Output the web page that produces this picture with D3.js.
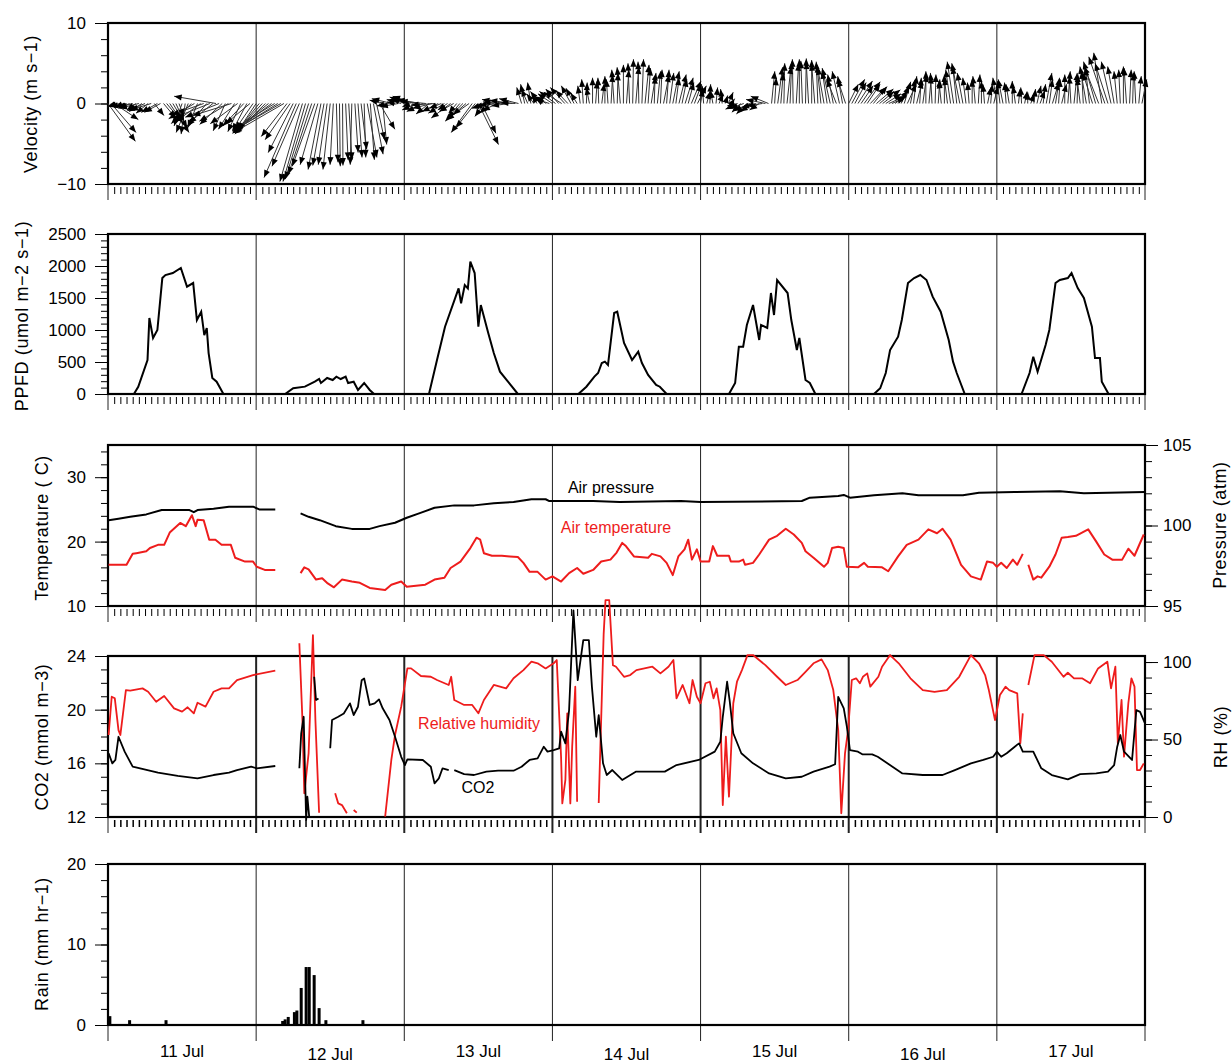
<!DOCTYPE html>
<html><head><meta charset="utf-8">
<script src="https://cdn.jsdelivr.net/npm/d3@7/dist/d3.min.js"></script>
<style>
body{margin:0;background:#fff;}
svg{display:block;}
text{font-family:"Liberation Sans",Arial,Helvetica,sans-serif;}
</style></head><body>
<svg id="chart" width="1232" height="1064"></svg>
<script>
// ---------------- DATA (time in hours since 11 Jul 00:00) ----------------
const dayLabels = ["11 Jul","12 Jul","13 Jul","14 Jul","15 Jul","16 Jul","17 Jul"];

// Wind vectors, half-hourly, u (east) and v (north) in m/s, per day
const windU11 = [3.4,3.1,3.0,-1.2,-1.5,-1.0,-2.0,-1.4,-1.8,-1.1,-2.4,-1.6,-2.2,-1.5,-2.6,1.2,-2.0,-2.0,1.5,2.0,2.4,1.8,1.0,0.6,-1.0,-0.5,-1.5,-2.5,-3.2,-1.2,-3.0,-4.0,-2.4,-4.5,-3.0,-5.2,-4.2,-2.8,-1.5,-3.6,-4.8,-2.0,-3.4,-1.6,-2.6,-1.8,-3.0,-2.2];
const windV11 = [-4.7,-3.6,-2.0,-0.4,-0.3,-0.5,-0.4,-0.6,-0.5,-0.8,-0.6,-1.0,-0.9,-1.2,-0.8,-1.5,-1.1,-1.1,-1.8,-2.4,-3.6,-3.0,-2.2,-1.6,-2.8,-3.8,-3.6,-2.5,-1.9,-3.0,-2.2,-1.4,-2.8,-1.8,-2.4,0.9,-1.7,-2.6,-3.4,-2.2,-1.5,-3.2,-2.5,-3.5,-2.8,-3.4,-2.5,-3.2];
const windU12 = [-2.2,-2.8,-3.3,-3.8,-4.2,-4.8,-5.2,-5.6,-6.0,-6.4,-3.2,-3.1,-3.1,-4.0,-3.4,-2.8,-2.8,-2.9,-2.9,-2.8,-2.2,-1.6,-1.4,-1.1,-0.9,-0.4,0.2,0.1,0.05,0.3,0.4,-0.2,0.4,0.5,0.7,0.2,1.2,0.5,1.2,1.0,1.9,0.5,-2.0,-1.5,-2.5,-1.0,-2.2,-1.8];
const windV12 = [-3.3,-3.5,-3.6,-3.8,-3.4,-3.6,-3.2,-3.5,-3.4,-3.7,-4.1,-4.5,-6.1,-9.2,-7.8,-9.7,-9.7,-9.4,-8.8,-7.8,-7.6,-8.2,-7.7,-7.6,-8.2,-7.6,-7.3,-7.8,-7.7,-7.0,-7.0,-7.6,-6.1,-6.7,-5.7,-6.7,-6.7,-7.0,-6.3,-4.5,-3.2,-5.1,0.4,-0.3,0.6,0.2,-0.4,0.5];
const windU13 = [-1.5,-2.2,-1.0,-2.6,-1.8,-2.8,-2.0,-3.2,-1.6,-2.4,-3.0,-2.0,-1.5,-2.0,-1.2,-2.4,-1.8,-1.0,-1.5,-2.2,-1.6,-2.8,-2.6,-2.4,2.5,1.8,-1.2,-2.0,-1.4,-2.4,-1.8,-2.6,-2.5,-3.0,-2.2,-2.8,-1.8,-2.4,-0.6,-0.5,-0.8,-0.4,-0.9,-0.6,-1.2,-0.8,-1.5,-1.8];
const windV13 = [0.6,0.8,-0.4,0.9,-0.8,0.5,-1.0,0.3,-1.3,-0.6,-0.2,-1.0,-0.6,-1.2,-0.8,-1.8,-1.0,-1.2,-1.8,-2.2,-1.4,-2.0,-3.6,-3.0,-5.1,-3.7,-1.6,-0.6,-1.2,-0.4,-0.9,-0.2,0.2,0.5,-0.3,0.4,0.1,0.6,2.0,2.4,1.8,2.6,1.2,1.0,1.5,0.7,0.9,0.6];
const windU14 = [-1.8,-2.0,-1.6,-2.2,-1.8,-1.5,-1.2,-1.0,-0.8,-0.3,-0.2,0.1,-0.4,0.0,0.2,-0.1,0.3,0.0,-0.2,0.2,-0.3,0.1,-0.4,0.0,0.3,-0.2,0.1,0.4,-0.1,0.2,0.5,0.3,0.6,0.1,0.4,0.2,0.7,0.3,0.5,0.8,0.4,0.9,0.6,1.0,0.7,1.2,0.9,1.1];
const windV14 = [1.2,1.5,1.8,1.4,2.0,1.6,2.2,1.9,1.3,2.2,3.0,2.6,2.0,3.2,2.8,3.2,2.5,3.4,3.0,3.6,4.2,3.8,4.5,4.8,4.2,5.0,5.5,4.6,5.2,5.5,4.8,4.4,3.8,3.4,4.0,4.2,3.6,4.2,3.8,4.0,3.2,3.6,3.0,3.2,2.6,2.8,2.4,2.2];
const windU15 = [0.3,-0.2,0.4,0.1,-0.3,0.2,0.5,-0.2,0.3,0.6,0.4,-0.9,-1.5,-1.1,-1.7,-1.3,-2.0,-1.6,-1.8,-1.2,-2.0,-2.4,-2.2,0.4,0.2,0.6,0.3,0.1,0.5,0.2,-0.1,0.3,0.0,-0.2,0.1,-0.3,0.0,-0.4,-0.2,-0.5,-0.8,-0.6,-1.0,-0.7,-1.2,-0.9,-0.6,-1.0];
const windV15 = [1.8,2.2,1.5,2.4,1.6,2.0,1.2,1.8,1.0,1.4,0.6,-0.3,-0.7,-1.1,-0.6,-1.3,-0.9,-1.0,-0.5,-0.8,-0.3,0.5,0.9,4.0,3.2,4.5,3.8,5.0,4.6,5.2,5.5,5.0,5.5,5.3,5.6,5.2,5.4,5.0,5.2,4.8,4.5,4.0,4.4,3.6,3.0,4.0,3.4,3.0];
const windU16 = [1.2,1.6,1.4,1.8,1.5,2.0,1.6,1.9,1.7,2.1,1.8,2.2,1.9,2.0,1.6,1.4,1.2,1.0,0.8,1.1,0.6,0.4,0.7,0.2,0.5,0.0,0.3,-0.2,0.1,0.2,-0.3,0.0,-0.4,-0.6,-0.8,-0.5,-1.0,-0.7,-0.4,-0.2,0.0,-0.3,0.2,0.0,-0.2,0.4,0.2,0.5];
const windV16 = [2.4,3.0,2.6,2.8,2.2,2.7,2.4,2.0,2.1,1.8,1.5,1.7,1.2,0.9,0.7,1.0,1.6,2.2,2.7,2.4,3.0,3.4,2.8,3.2,3.6,4.0,3.4,3.8,3.6,3.0,2.8,3.6,3.2,4.2,5.2,4.6,5.0,3.8,3.2,2.6,3.0,3.4,3.6,2.8,2.4,2.0,2.4,2.1];
const windU17 = [-0.5,-0.3,-0.6,-0.2,-0.4,0.0,-0.3,0.2,-0.1,0.3,0.0,0.4,0.2,0.5,0.6,0.3,0.7,0.4,0.8,0.5,0.2,0.6,0.0,0.3,-0.2,0.4,0.1,-0.4,-0.2,-0.8,-0.5,-1.2,-1.5,-1.8,-1.0,-2.0,-1.6,-1.2,-0.8,-0.4,-0.2,0.0,-0.3,0.2,0.1,-0.2,0.3,0.6];
const windV17 = [3.2,2.8,3.0,2.6,2.4,2.8,2.2,1.8,2.0,1.5,1.4,1.2,1.8,2.2,1.6,2.4,3.8,3.0,2.6,3.2,3.0,2.4,3.6,4.0,3.4,3.8,3.6,3.2,4.0,4.6,4.4,3.8,5.2,4.6,6.3,5.8,5.0,5.2,4.6,4.0,4.2,4.6,4.4,4.2,3.8,4.0,3.4,3.0];

// PPFD (umol m-2 s-1)
const ppfdHour = [0,4.2,4.9,6.4,6.7,7.3,8.0,8.8,9.3,10.5,11.8,12.8,13.8,14.4,15.1,15.6,16.0,16.3,16.9,17.6,18.7,
  28.7,30.0,31.9,33.5,34.2,34.5,35.5,36.4,37.0,37.7,38.5,38.9,39.8,40.5,41.5,42.4,43.1,
  52.0,53.3,54.6,56.8,57.2,57.8,58.3,58.7,59.4,60.0,60.4,61.6,62.5,63.5,64.8,66.4,
  76.2,77.5,78.8,79.4,80.0,80.5,81.0,82.0,82.5,83.6,84.9,85.9,86.5,87.5,88.8,89.4,90.5,
  100.6,101.6,102.2,102.9,103.5,104.5,105.5,105.8,106.8,107.4,107.9,108.4,110.1,110.7,111.6,112.0,113.0,113.7,114.6,
  124.1,125.1,126.0,126.7,128.0,128.6,129.6,130.6,131.6,132.6,133.6,134.9,136.2,136.9,137.5,138.8,
  148.0,149.3,149.9,150.6,151.9,152.5,153.5,154.2,155.5,156.1,157.1,158.1,159.4,159.9,160.7,161.0,162.1,168];
const ppfdValue = [0,0,114,531,1187,875,1000,1812,1859,1890,1969,1677,1734,1156,1286,921,1031,640,250,192,0,
  0,89,115,192,234,172,250,219,271,234,271,172,192,63,172,63,0,
  0,531,1052,1651,1417,1703,1651,2067,1890,1052,1390,953,640,349,192,0,
  0,114,271,328,484,505,453,1265,1286,797,531,661,484,297,141,114,0,
  0,172,739,739,1078,1390,844,1078,1031,1578,1234,1781,1578,1156,687,875,219,172,0,
  0,89,328,687,896,1156,1734,1812,1859,1781,1521,1286,844,505,328,0,
  0,328,583,349,766,1000,1734,1781,1812,1890,1656,1500,1052,562,562,192,0,0];

// Air temperature (C), null = no data
const tempHour = [0.1,3.0,4.0,4.6,6.2,6.8,8.1,9.1,10.0,11.7,12.6,13.6,14.2,14.5,15.5,16.4,17.4,18.4,19.9,20.6,
  22.2,23.5,24.1,25.4,27.1,29.0,31.2,31.8,32.5,33.7,34.7,35.6,36.6,37.9,39.5,40.8,42.4,44.9,45.9,47.5,
  48.4,51.4,52.9,54.5,55.5,57.1,58.7,59.7,60.3,60.9,62.2,63.8,65.1,66.4,67.3,68.3,69.6,70.9,72.0,73.4,
  74.7,76.0,77.0,78.6,79.9,81.4,82.4,83.3,83.9,85.2,87.5,88.1,89.5,90.5,91.5,92.4,93.4,94.0,94.6,95.4,
  96.0,97.4,98.0,98.7,100.6,100.9,102.2,102.9,103.2,104.5,105.5,107.1,108.4,109.8,111.1,112.4,113.0,114.3,116.0,116.6,
  117.3,118.3,119.2,119.7,121.5,122.5,123.1,125.4,126.4,128.0,129.4,131.3,132.9,134.3,135.2,136.5,138.2,139.8,141.4,142.4,
  143.4,144.0,144.7,145.6,146.6,147.3,148.2,148.6,149.1,149.9,150.6,151.2,152.5,153.5,154.5,155.5,156.8,158.8,160.1,161.4,
  162.7,164.3,165.3,166.3,167.8];
const tempValue = [16.4,16.4,18.1,18.2,18.5,19.0,19.5,19.5,21.4,22.9,22.4,24.1,22.4,23.4,23.3,20.3,20.3,19.5,19.5,17.5,
  16.9,16.9,16.1,15.6,15.6,null,15.1,16.0,15.7,14.1,14.3,13.5,12.9,14.1,13.8,13.6,12.8,12.5,13.3,13.8,
  13.0,13.3,14.1,14.4,15.9,16.9,19.0,20.6,20.3,18.2,17.8,17.8,17.7,17.6,16.7,15.3,15.3,14.1,14.6,13.8,
  15.1,15.9,15.0,15.6,16.9,17.2,18.3,19.8,19.3,17.7,17.5,18.1,17.7,16.7,14.8,17.7,18.8,20.3,17.2,18.8,
  16.9,16.9,19.3,17.8,17.8,16.9,16.9,17.2,16.4,16.7,18.0,20.3,20.9,22.0,21.1,19.8,18.5,17.5,16.1,16.7,
  19.0,19.2,19.0,16.1,16.0,16.7,16.1,16.0,15.4,17.7,19.5,20.3,21.9,21.3,22.0,20.3,16.4,14.6,14.1,16.9,
  16.7,16.1,16.7,15.9,17.2,16.4,18.1,null,16.4,14.1,14.6,14.4,16.1,18.0,20.6,20.7,20.9,21.9,20.0,18.0,
  17.2,17.2,18.9,17.8,21.1];

// Air pressure (right axis)
const presHour = [0.1,1.7,3.6,6.2,8.7,13.2,13.9,14.5,17.1,19.6,23.5,24.5,27.1,29.0,31.2,32.5,34.3,36.9,39.5,42.4,
  44.0,46.5,48.4,50.4,52.9,56.1,59.3,62.5,65.7,68.6,70.9,71.5,78.6,82.9,92.8,96.0,112.4,113.7,118.3,119.2,
  120.2,124.1,128.7,131.3,138.5,141.1,146.9,154.2,158.1,168];
const presValue = [100.33,100.42,100.54,100.69,100.96,100.96,100.83,100.96,101.04,101.17,101.17,101.0,101.0,null,100.75,100.54,100.33,99.96,99.79,99.79,
  99.96,100.17,100.48,100.75,101.1,101.25,101.25,101.38,101.46,101.63,101.63,101.52,101.52,101.46,101.52,101.46,101.52,101.73,101.83,101.9,
  101.73,101.88,102.0,101.88,101.88,102.04,102.08,102.13,102.0,102.08];

// CO2 (mmol m-3)
const co2Hour = [0.1,0.7,1.2,1.7,2.7,4.0,5.2,8.1,11.3,14.5,17.1,19.6,20.9,23.2,24.1,27.1,29.0,31.0,31.3,31.7,
  32.1,32.3,32.6,33.0,33.4,33.7,34.1,35.0,36.0,36.3,37.3,38.2,39.2,39.8,40.5,41.1,41.5,42.4,43.2,43.9,
  44.5,45.6,46.5,47.5,48.1,48.5,51.0,52.3,52.9,53.6,54.2,55.2,55.6,56.1,57.7,59.3,61.3,63.2,65.7,67.0,
  68.3,69.6,70.6,71.2,72.2,73.1,73.4,74.1,74.7,75.4,76.1,77.0,77.9,78.4,79.1,79.5,80.2,80.8,81.7,83.3,
  85.5,90.2,92.1,95.7,98.3,99.2,99.6,100.3,100.7,101.3,102.6,104.5,107.1,109.8,112.4,114.3,116.9,117.8,118.3,119.2,
  119.7,120.2,121.5,122.2,123.8,124.7,128.7,132.0,135.2,137.2,139.8,141.8,143.4,144.0,144.7,145.6,146.9,147.6,148.2,149.9,
  151.2,152.9,155.5,157.5,160.1,162.0,163.0,163.5,164.0,164.6,165.9,166.6,167.2,168];
const co2Value = [16.75,16.0,16.25,17.98,16.87,15.75,15.63,15.3,15.06,14.88,15.13,15.3,15.5,15.75,15.63,15.8,null,15.63,18.24,19.47,
  11.78,13.51,12.0,null,22.45,20.72,20.84,null,17.12,19.23,19.47,19.72,20.47,19.6,20.22,22.2,22.33,20.35,20.47,20.77,
  20.1,19.23,17.98,16.49,15.87,16.3,16.25,15.75,14.51,14.88,15.63,15.5,null,15.5,15.2,15.13,15.38,15.45,15.45,15.75,
  16.25,16.37,17.24,16.87,16.99,17.12,18.36,17.49,19.97,27.4,22.2,25.19,25.19,21.7,17.98,19.6,16.0,15.13,15.5,14.76,
  15.38,15.38,15.87,16.25,16.87,17.61,19.47,22.08,20.72,18.24,16.75,16.0,15.25,14.88,15.0,15.38,15.75,15.93,20.96,20.1,
  18.73,16.99,16.87,16.67,16.67,16.49,15.25,15.13,15.13,15.5,16.0,16.25,16.49,16.87,16.49,16.75,17.24,17.49,16.87,16.87,
  15.63,15.13,14.81,15.2,15.25,15.38,15.87,17.24,18.11,16.87,16.25,19.97,19.84,18.98];

// Relative humidity (%)
const rhHour = [0.1,0.6,1.1,1.7,2.0,2.9,3.6,5.6,6.5,7.8,9.1,10.7,12.0,12.9,13.9,14.5,15.8,17.1,18.4,19.6,
  20.9,23.5,27.1,29.0,31.0,31.5,31.8,32.5,33.2,33.6,34.2,35.5,36.8,37.3,37.9,38.7,39.3,39.8,40.3,42.0,
  44.9,45.9,46.5,47.5,48.5,49.1,50.7,52.3,53.3,55.2,55.6,56.1,57.7,59.0,60.0,60.9,62.5,64.5,65.7,67.3,
  68.6,69.6,70.9,72.2,72.7,73.4,73.6,74.1,74.4,74.9,75.2,75.7,76.0,77.8,79.5,80.3,80.6,81.2,81.8,82.3,
  83.6,84.6,85.6,86.9,88.2,89.5,90.8,91.6,92.1,93.1,93.8,94.2,94.7,95.4,96.0,96.8,97.5,98.1,98.6,99.2,
  99.6,100.1,100.6,101.3,101.9,102.7,103.6,104.5,106.5,108.4,109.8,111.7,113.0,114.3,115.6,116.6,117.5,118.3,118.8,119.4,
  119.9,120.5,121.2,121.8,122.3,123.0,123.5,124.8,125.4,126.7,128.1,130.0,132.0,133.9,135.9,137.9,139.8,141.1,142.1,142.7,
  143.7,144.5,145.4,146.0,147.3,147.8,148.2,148.6,149.1,150.1,151.6,152.9,154.8,155.5,156.5,157.8,159.1,160.4,161.9,162.5,
  163.2,163.6,164.2,164.6,165.3,165.8,166.3,166.7,167.2,167.8];
const rhValue = [52.9,77.6,76.6,56.1,52.9,81.9,81.5,83.0,80.8,74.4,78.1,70.1,68.0,70.8,66.9,73.7,71.2,80.8,83.0,83.0,
  88.4,91.6,94.4,null,112.1,62.6,15.3,41.1,117.4,62.6,2.8,null,15.3,8.8,7.7,2.4,null,4.5,2.8,null,
  0.2,36.8,52.9,71.2,95.9,95.9,91.0,90.5,88.4,85.2,90.5,75.5,72.3,72.3,66.9,75.5,85.2,83.0,89.5,94.8,
  100.2,99.2,95.9,99.2,101.3,38.9,8.8,23.9,66.9,8.8,45.4,84.1,9.9,null,9.0,118,140,140,98,97,
  90.5,91.6,94.8,95.9,97,92.7,97,101.3,76.6,85.2,77.6,73.4,88.4,77.6,73.4,86.3,87.3,76.6,83.0,69.0,
  7.7,51.8,13.1,73.4,87.3,94.8,104.5,104.5,98,90.5,85.2,88.4,93.7,99.2,101.7,94.8,81.9,56.1,2.4,41.1,
  56.1,88.4,89.5,86.3,90.5,92.7,84.1,90.5,97,104.5,99.2,89.5,81.9,80.8,81.9,90.5,104.5,99.2,91.6,81.9,
  62.6,78.7,84.1,81.9,79.8,47.5,66.9,null,85.2,104.5,104.5,100.2,90.5,93.1,89.5,89.5,86.3,95.9,100.2,83.0,
  97,47.5,75.5,38.9,73.4,89.5,84.1,30.3,30.3,34.6];

// Rain (mm hr-1)
const rainHour = [0.3,3.5,9.4,28.3,28.7,29.2,30.2,30.6,31.3,32.1,32.6,33.4,34.2,35.3,41.3];
const rainValue = [1.1,0.6,0.6,0.5,0.7,1.0,1.6,1.8,4.6,7.2,7.2,6.2,2.1,0.6,0.6];

// ---------------- DRAWING ----------------
const FONT = '"Liberation Sans", Arial, Helvetica, sans-serif';
const RED = "#ee1c1c";
const svg = d3.select("#chart");
const x = d3.scaleLinear().domain([0, 168]).range([108, 1145]);

const yVel  = d3.scaleLinear().domain([-10, 10]).range([184, 23]);
const yPpfd = d3.scaleLinear().domain([0, 2500]).range([394, 234]);
const yTemp = d3.scaleLinear().domain([10, 35]).range([606, 445]);
const yPres = d3.scaleLinear().domain([95, 105]).range([606, 445]);
const yCo2  = d3.scaleLinear().domain([12, 24]).range([817, 656]);
const yRh   = d3.scaleLinear().domain([0, 103.9]).range([817, 656]);
const yRain = d3.scaleLinear().domain([0, 20]).range([1025, 864]);

const panels = [
  {top: 23, bottom: 184, hours: true},
  {top: 234, bottom: 394, hours: true},
  {top: 445, bottom: 606, hours: true},
  {top: 656, bottom: 817, hours: true, thickDays: true},
  {top: 864, bottom: 1025, hours: false}
];

const fmt = d => d < 0 ? "\u2212" + (-d) : String(d);

function yAxis(scale, side, major, minor) {
  const xPos = side === "left" ? 108 : 1145;
  const mk = side === "left" ? d3.axisLeft : d3.axisRight;
  const gMin = svg.append("g").attr("transform", `translate(${xPos},0)`)
    .call(mk(scale).tickValues(minor).tickSize(7).tickFormat(""));
  gMin.select(".domain").remove();
  gMin.selectAll("line").attr("stroke", "#000");
  const gMaj = svg.append("g").attr("transform", `translate(${xPos},0)`)
    .call(mk(scale).tickValues(major).tickSize(13).tickPadding(side === "left" ? 9 : 5).tickFormat(fmt));
  gMaj.select(".domain").remove();
  gMaj.attr("font-size", 17).attr("font-family", FONT);
  gMaj.selectAll("line").attr("stroke", "#000");
  gMaj.selectAll("text").attr("fill", "#000");
}

// day grid lines + hourly ticks + frames
panels.forEach(p => {
  const days = d3.range(0, 8).map(d => d * 24);
  svg.append("g").selectAll("line").data(days).join("line")
    .attr("x1", d => x(d)).attr("x2", d => x(d))
    .attr("y1", p.top).attr("y2", p.bottom + 16)
    .attr("stroke", "#222").attr("stroke-width", (d, i) => (p.thickDays && i > 0 && i < 7) ? 2 : 1);
  if (p.hours) {
    const hrs = d3.range(1, 168).filter(h => h % 24 !== 0);
    const g = svg.append("g").attr("transform", `translate(0,${p.bottom + 3})`)
      .call(d3.axisBottom(x).tickValues(hrs).tickSize(7).tickFormat(""));
    g.select(".domain").remove();
    g.selectAll("line").attr("stroke", "#000").attr("stroke-width", p.thickDays ? 1.5 : 1);
  }
  svg.append("rect").attr("x", x(0)).attr("y", p.top)
    .attr("width", x(168) - x(0)).attr("height", p.bottom - p.top)
    .attr("fill", "none").attr("stroke", "#000").attr("stroke-width", 2.2);
});

// axes
yAxis(yVel, "left", [-10, 0, 10], d3.range(-10, 11, 2));
yAxis(yPpfd, "left", d3.range(0, 2501, 500), d3.range(0, 2501, 100));
yAxis(yTemp, "left", [10, 20, 30], d3.range(10, 35, 2));
yAxis(yPres, "right", [95, 100, 105], d3.range(95, 106, 1));
yAxis(yCo2, "left", [12, 16, 20, 24], d3.range(12, 25, 1));
yAxis(yRh, "right", [0, 50, 100], d3.range(0, 101, 10));
yAxis(yRain, "left", [0, 10, 20], d3.range(0, 21, 2));

// axis titles
function vTitle(txt, cx, cy, size) {
  svg.append("text").attr("transform", `translate(${cx},${cy}) rotate(-90)`)
    .attr("text-anchor", "middle").attr("dy", "0.36em")
    .attr("font-size", size).attr("font-family", FONT).attr("letter-spacing", 0.6).text(txt);
}
vTitle("Velocity (m s\u22121)", 31, 104, 18);
vTitle("PPFD (umol m\u22122 s\u22121)", 22, 316, 18);
vTitle("Temperature ( C)", 42, 528, 18);
vTitle("Pressure (atm)", 1220, 525, 18);
vTitle("CO2 (mmol m\u22123)", 42, 737, 18);
vTitle("RH (%)", 1221, 737, 18);
vTitle("Rain (mm hr\u22121)", 42, 944, 18);

// day labels
svg.append("g").selectAll("text").data(dayLabels).join("text")
  .attr("x", (d, i) => x(i * 24 + 12)).attr("y", (d, i) => i % 2 === 0 ? 1057 : 1060)
  .attr("text-anchor", "middle").attr("font-size", 17).attr("font-family", FONT).text(d => d);

// ---- velocity sticks ----
const windU = [].concat(windU11, windU12, windU13, windU14, windU15, windU16, windU17);
const windV = [].concat(windV11, windV12, windV13, windV14, windV15, windV16, windV17);
const k = yVel(0) - yVel(1);
const sticks = windU.map((u, i) => {
  const h = i * 0.5;
  const x0 = x(h), y0 = yVel(0);
  return {x0, y0, x1: x0 + u * k, y1: yVel(windV[i])};
});
const gv = svg.append("g");
gv.selectAll("line").data(sticks).join("line")
  .attr("x1", d => d.x0).attr("y1", d => d.y0).attr("x2", d => d.x1).attr("y2", d => d.y1)
  .attr("stroke", "#333").attr("stroke-width", 1);
gv.selectAll("path").data(sticks).join("path")
  .attr("d", d => {
    const a = Math.atan2(d.y1 - d.y0, d.x1 - d.x0), L = 7.5, W = 3;
    const bx = d.x1 - L * Math.cos(a), by = d.y1 - L * Math.sin(a);
    return `M${d.x1},${d.y1}L${bx + W * Math.sin(a)},${by - W * Math.cos(a)}L${bx - W * Math.sin(a)},${by + W * Math.cos(a)}Z`;
  })
  .attr("fill", "#000");

// ---- PPFD ----
const ppfdData = ppfdHour.map((h, i) => [h, ppfdValue[i]]);
svg.append("path").datum(ppfdData)
  .attr("d", d3.line().x(d => x(d[0])).y(d => yPpfd(d[1])))
  .attr("fill", "none").attr("stroke", "#000").attr("stroke-width", 2);

// ---- Temperature & pressure, CO2 & RH ----
function series(hours, vals, yS, color, w) {
  const data = hours.map((h, i) => [h, vals[i]]);
  svg.append("path").datum(data)
    .attr("d", d3.line().defined(d => d[1] !== null).x(d => x(d[0])).y(d => yS(d[1])))
    .attr("fill", "none").attr("stroke", color).attr("stroke-width", w).attr("stroke-linejoin", "round");
}
series(presHour, presValue, yPres, "#000", 2);
series(tempHour, tempValue, yTemp, RED, 2);
series(rhHour, rhValue, yRh, RED, 1.8);
series(co2Hour, co2Value, yCo2, "#000", 1.8);

// ---- Rain bars ----
svg.append("g").selectAll("rect").data(rainHour.map((h, i) => [h, rainValue[i]])).join("rect")
  .attr("x", d => x(d[0]) - 1.5).attr("width", 3)
  .attr("y", d => yRain(d[1])).attr("height", d => yRain(0) - yRain(d[1]))
  .attr("fill", "#000");

// ---- in-plot labels ----
function label(txt, cx, y, color) {
  svg.append("text").attr("x", cx).attr("y", y).attr("text-anchor", "middle")
    .attr("font-size", 16).attr("font-family", FONT).attr("fill", color).text(txt);
}
label("Air pressure", 611, 493, "#000");
label("Air temperature", 616, 533, RED);
label("Relative humidity", 479, 729, RED);
label("CO2", 478, 793, "#000");
</script>
</body></html>
